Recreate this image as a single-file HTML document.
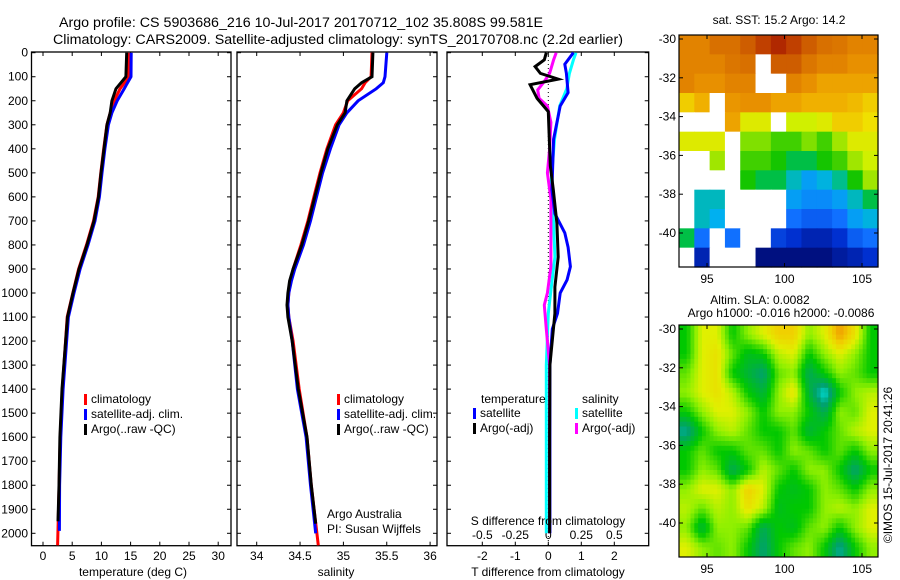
<!DOCTYPE html>
<html><head><meta charset="utf-8"><style>
html,body{margin:0;padding:0;background:#fff;}
svg{display:block;font-family:"Liberation Sans",sans-serif;}
</style></head><body>
<svg id="fig" width="900" height="580" viewBox="0 0 900 580">
<text x="59" y="27" font-size="13.5" textLength="484" lengthAdjust="spacingAndGlyphs">Argo profile: CS 5903686_216 10-Jul-2017 20170712_102 35.808S 99.581E</text>
<text x="53" y="44" font-size="13.5" textLength="570" lengthAdjust="spacingAndGlyphs">Climatology: CARS2009. Satellite-adjusted climatology: synTS_20170708.nc (2.2d earlier)</text>
<g id="g"></g>
</svg>
<script>
// ---------- data ----------
const tDepth = [0,100,150,200,250,300,400,500,600,700,800,900,1000,1100,1400,1600,1800,1950];
const tArgo  = [14.33,14.2,12.5,11.8,11.5,10.96,10.45,9.93,9.5,8.73,7.53,6.16,5.14,4.2,3.25,2.9,2.74,2.57];
const tClimDepth = [0,100,150,200,250,300,400,500,600,700,800,900,1000,1100,1400,1600,1800,2050];
const tClim  = [14.67,14.7,13.2,12.2,11.5,10.95,10.4,9.9,9.45,8.65,7.45,6.1,5.1,4.15,3.3,2.95,2.75,2.5];
const tSatDepth = [0,100,150,200,250,300,400,500,600,700,800,900,1000,1100,1400,1600,1800,1990];
const tSat   = [15.1,15.07,13.9,12.7,11.8,11.2,10.6,10.1,9.65,8.9,7.7,6.35,5.3,4.35,3.45,3.05,2.85,2.8];

const sDepth = [0,100,125,150,200,250,300,400,500,600,700,800,900,950,1000,1050,1100,1200,1400,1600,1800,1960];
const sArgo  = [35.34,35.33,35.21,35.13,35.04,35.02,34.93,34.82,34.74,34.67,34.60,34.52,34.42,34.38,34.36,34.35,34.36,34.41,34.48,34.58,34.63,34.68];
const sClimDepth = [0,100,125,150,200,250,300,400,500,600,700,800,900,950,1000,1050,1100,1200,1400,1600,1800,2050];
const sClim  = [35.33,35.32,35.25,35.21,35.05,35.00,34.91,34.81,34.73,34.66,34.59,34.51,34.42,34.39,34.37,34.36,34.37,34.42,34.49,34.58,34.63,34.71];
const sSatDepth = [0,100,125,150,200,250,300,400,500,600,700,800,900,950,1000,1050,1100,1200,1400,1600,1800,2000];
const sSat   = [35.50,35.48,35.46,35.38,35.17,35.04,34.95,34.85,34.76,34.69,34.62,34.54,34.44,34.40,34.37,34.36,34.37,34.41,34.47,34.57,34.62,34.68];

const dTDepth = [0,30,58,86,110,133,190,245,360,470,570,710,850,975,1085,1300,1600,2000];
const dTArgo  = [-0.06,-0.12,-0.4,-0.24,0.3,-0.55,-0.34,0,0.03,0.06,0.15,0.26,0.3,0.2,0.2,0.05,0.04,0.04];
const dTSatDepth = [0,48,86,166,222,360,570,670,750,810,890,945,1000,1085,1150,1300,1600,2000];
const dTSat   = [0.76,0.5,0.55,0.6,0.36,0.16,0.11,0.2,0.5,0.6,0.67,0.57,0.36,0.28,0.12,0.05,0.05,0.05];
const dSSatDepth = [0,30,86,150,222,360,530,710,850,975,1085,1300,1600,2000];
const dSSat   = [0.21,0.19,0.16,0.14,0.086,0.047,0.023,0.04,0.05,0.023,0,-0.015,-0.015,-0.015];
const dSArgoDepth = [0,30,86,120,155,190,222,290,400,500,610,750,890,1000,1050,1150,1300,1600,2000];
const dSArgo  = [0.06,0.04,0.01,-0.03,-0.08,-0.07,-0.007,0.02,0.01,-0.007,0.02,0.02,0.02,-0.007,-0.03,-0.015,0.01,0.01,0.01];

const N = NaN;
const sstGrid = [
 [17,17,17.3,17.3,17.5,17.8,18,17.8,17.5,17.3,17.2,17,17],
 [17,17,17,17.2,17.3,N,17.5,17.5,17.2,17,17,16.8,16.8],
 [17,16.8,16.8,17,17,N,N,17,16.8,16.5,16.5,16.5,16.5],
 [16,16.3,N,16.7,16.8,16.8,16.5,16.5,16.3,16.3,16.3,16.2,16],
 [N,N,N,16.5,15.5,15.5,N,15.3,15.3,15.5,16,16,15.8],
 [15.5,15.5,15.5,N,14.8,14.8,14.5,14.5,14.8,14.5,15,15.5,15.5],
 [N,N,15,N,14.5,14.5,14.3,14,14,14.3,14.5,15,15.3],
 [N,N,N,N,14.3,14,14,13.5,13,13.3,13.8,14.3,15],
 [N,13.5,13.5,N,N,N,N,13,12.8,12.8,13,13.5,14],
 [N,13.5,13.2,N,N,N,N,12.5,12.3,12.3,12.5,13,13.3],
 [14,12.5,N,12.5,N,N,12,11.8,11.5,11.5,11.8,12.3,12.5],
 [N,11.5,N,N,N,11,11,11,11,11,11.3,11.5,11.8]];
const slaGrid = [
 [0,.5,.5,0,.3,.5,.7,.7,.3,.5,.9,.6,0],
 [0,.5,.6,.2,-.1,0,.4,.5,0,.3,.5,.3,0],
 [.2,.5,.6,0,-.2,-.4,.2,.3,-.3,0,.3,.2,0],
 [.3,.5,.6,.4,0,-.2,.3,.6,-.2,-.7,0,.3,.4],
 [0,.3,.5,.5,.3,0,.3,.3,0,-.3,.3,.2,.5],
 [-.5,0,.3,.4,.2,0,0,.2,-.2,0,.2,.4,.5],
 [0,.2,0,0,.2,.2,0,.3,.2,0,.2,0,.3],
 [0,.3,.2,-.3,0,.4,.2,0,.3,.3,0,-.4,0],
 [.3,.5,.5,.3,.7,.5,0,-.1,0,.3,.2,0,.3],
 [.4,.2,.4,.3,.6,.4,-.1,0,0,.3,.4,.3,.5],
 [.3,-.2,.3,.3,.2,-.3,0,-.1,.2,.3,0,.3,.5],
 [.5,.3,.2,.3,0,-.4,0,.2,.3,0,-.5,0,.3]];

const depthTicks = [0,100,200,300,400,500,600,700,800,900,1000,1100,1200,1300,1400,1500,1600,1700,1800,1900,2000];
const tTicks = [0,5,10,15,20,25,30];
const sTicks = [34,34.5,35,35.5,36];
const dTTicks = [-2,-1,0,1,2];
const dSTicks = [-0.5,-0.25,0,0.25,0.5];
const dSTickLabels = ["-0.5","-0.25","0","0.25","0.5"];
const latTicks = [-30,-32,-34,-36,-38,-40];
const lonTicks = [95,100,105];

// ---------- helpers ----------
const NS="http://www.w3.org/2000/svg";
const G=document.getElementById('g');
function el(tag,attrs,parent,txt){const e=document.createElementNS(NS,tag);for(const k in attrs)e.setAttribute(k,attrs[k]);if(txt!==undefined)e.textContent=txt;(parent||G).appendChild(e);return e;}
const PT=52.7, PB=545.7;
const yD=d=>PT+d*0.2403;
const xT=v=>43+v*5.84;
const xS=v=>256.7+(v-34)*86.7;
const xDT=v=>548.3+v*33;
const xDS=v=>548.3+v*132;

function panel(name,x0,x1){
  const r=el('rect',{x:x0,y:52,width:x1-x0,height:PB-52,fill:'none',stroke:'#000','stroke-width':1.3});
  
  
  depthTicks.forEach(d=>{el('line',{x1:x0,x2:x0+4,y1:yD(d),y2:yD(d),stroke:'#000'});el('line',{x1:x1-4,x2:x1,y1:yD(d),y2:yD(d),stroke:'#000'});});
}
function xticks(vals,fx,x0,x1,labels,ly,name){
  vals.forEach((v,i)=>{const x=fx(v);
    el('line',{x1:x,x2:x,y1:52,y2:56,stroke:'#000'});
    el('line',{x1:x,x2:x,y1:PB-4,y2:PB,stroke:'#000'});
    if(labels){const t=el('text',{x:x,y:ly,'font-size':12,'text-anchor':'middle'},G,labels[i]);
      
      }
  });
}
function line(name,depths,vals,fx,color,w){
  const pts=depths.map((d,i)=>fx(vals[i]).toFixed(1)+','+yD(d).toFixed(1)).join(' ');
  const p=el('polyline',{points:pts,fill:'none',stroke:color,'stroke-width':w||3,'stroke-linejoin':'miter'});
  
  
}
function legend(x,y,color,label,name){
  el('rect',{x:x,y:y-9,width:3,height:11,fill:color});
  const t=el('text',{x:x+7,y:y,'font-size':12},G,label);
  
  
}

// ---------- panel 1 temperature ----------
panel('temperature-panel',31.5,231);
xticks(tTicks,xT,31.5,231,tTicks.map(String),560,'temperature-tick-label');
depthTicks.forEach(d=>{const t=el('text',{x:28,y:yD(d)+4,'font-size':12,'text-anchor':'end'},G,String(d));
  
  });
line('temperature-climatology',tClimDepth,tClim,xT,'#ff0000');
line('temperature-satellite-adj',tSatDepth,tSat,xT,'#0000ff');
line('temperature-argo',tDepth,tArgo,xT,'#000000');
legend(84,403,'#ff0000','climatology','legend-climatology');
legend(84,418,'#0000ff','satellite-adj. clim.','legend-satellite-adj');
legend(84,433,'#000000','Argo(..raw -QC)','legend-argo');
{const t=el('text',{x:133,y:576,'font-size':12,'text-anchor':'middle'},G,'temperature (deg C)');
 }

// ---------- panel 2 salinity ----------
panel('salinity-panel',237,437);
xticks(sTicks,xS,237,437,sTicks.map(String),560,'salinity-tick-label');
line('salinity-climatology',sClimDepth,sClim,xS,'#ff0000');
line('salinity-satellite-adj',sSatDepth,sSat,xS,'#0000ff');
line('salinity-argo',sDepth,sArgo,xS,'#000000');
legend(337,403,'#ff0000','climatology','legend-climatology-2');
legend(337,418,'#0000ff','satellite-adj. clim.','legend-satellite-adj-2');
legend(337,433,'#000000','Argo(..raw -QC)','legend-argo-2');
{let t=el('text',{x:327,y:518,'font-size':12},G,'Argo Australia');
 t=el('text',{x:327,y:533,'font-size':12},G,'PI: Susan Wijffels');
 t=el('text',{x:336,y:576,'font-size':12,'text-anchor':'middle'},G,'salinity');}

// ---------- panel 3 differences ----------
panel('difference-panel',447,648.7);
xticks(dTTicks,xDT,447,648.7,dTTicks.map(String),560,'t-diff-tick-label');
dSTicks.forEach((v,i)=>{const t=el('text',{x:xDS(v),y:539,'font-size':12,'text-anchor':'middle'},G,dSTickLabels[i]);
  });
el('line',{x1:xDT(0),x2:xDT(0),y1:52,y2:PB,stroke:'#000','stroke-dasharray':'1,3'});
line('s-diff-satellite',dSSatDepth,dSSat,xDS,'#00ffff');
line('s-diff-argo',dSArgoDepth,dSArgo,xDS,'#ff00ff');
line('t-diff-satellite',dTSatDepth,dTSat,xDT,'#0000ff');
line('t-diff-argo',dTDepth,dTArgo,xDT,'#000000');
{let t=el('text',{x:481,y:403,'font-size':12},G,'temperature');
 t=el('text',{x:582,y:403,'font-size':12},G,'salinity');}
legend(473,417,'#0000ff','satellite','legend-t-satellite');
legend(473,432,'#000000','Argo(-adj)','legend-t-argo');
legend(575,417,'#00ffff','satellite','legend-s-satellite');
legend(575,432,'#ff00ff','Argo(-adj)','legend-s-argo');
{let t=el('text',{x:548,y:525,'font-size':12,'text-anchor':'middle'},G,'S difference from climatology');
 t=el('text',{x:548,y:576,'font-size':12,'text-anchor':'middle'},G,'T difference from climatology');}

// ---------- maps ----------
function cmap(stops,v){
  if(v<=stops[0][0])return stops[0][1];
  for(let i=1;i<stops.length;i++){if(v<=stops[i][0]){const a=stops[i-1],b=stops[i],f=(v-a[0])/(b[0]-a[0]);
    return 'rgb('+a[1].map((c,k)=>Math.round(c+(b[1][k]-c)*f)).join(',')+')';}}
  return 'rgb('+stops[stops.length-1][1].join(',')+')';
}
function fix(s){return s.map(x=>[x[0],x[1]]);}
const sstStops=[[11,[0,16,128]],[11.8,[0,48,208]],[12.5,[16,112,255]],[13.2,[0,176,240]],[13.8,[0,190,140]],[14.2,[0,192,0]],[14.8,[128,224,0]],[15.3,[208,240,0]],[15.8,[240,224,0]],[16.3,[240,176,0]],[16.8,[232,144,0]],[17.3,[216,112,0]],[17.8,[192,64,0]],[18.2,[160,16,0]]];
const slaStops=[[-0.7,[0,224,224]],[-0.4,[0,160,112]],[0,[0,200,0]],[0.3,[144,240,0]],[0.5,[224,240,0]],[0.7,[240,208,0]],[0.9,[240,160,0]]];
function cstr(stops,v){const c=cmap(stops,v);return typeof c==='string'?c:'rgb('+c.join(',')+')';}

function mapFrame(name,x0,y0,x1,y1,lat30y,title1,title2){
  const grp=el('g',{});
  
  
  return grp;
}
function axesMap(x0,y0,x1,y1,lat30y,name){
  const r=el('rect',{x:x0,y:y0,width:x1-x0,height:y1-y0,fill:'none',stroke:'#000','stroke-width':1.2});
  
  
  latTicks.forEach(l=>{const y=lat30y+(-30-l)*19.4;
    el('line',{x1:x0,x2:x0+4,y1:y,y2:y,stroke:'#000'});el('line',{x1:x1-4,x2:x1,y1:y,y2:y,stroke:'#000'});
    const t=el('text',{x:x0-3,y:y+4,'font-size':12,'text-anchor':'end'},G,String(l));
    });
  lonTicks.forEach(l=>{const x=707+(l-95)*15.5;
    el('line',{x1:x,x2:x,y1:y0,y2:y0+4,stroke:'#000'});el('line',{x1:x,x2:x,y1:y1-4,y2:y1,stroke:'#000'});
    const t=el('text',{x:x,y:y1+16,'font-size':12,'text-anchor':'middle'},G,String(l));
    });
}
// SST map
{const x0=679,y0=35,x1=878,y1=267,R=sstGrid.length,C=sstGrid[0].length,cw=(x1-x0)/C,ch=(y1-y0)/R;
 const grp=mapFrame('sst-map');
 sstGrid.forEach((row,i)=>row.forEach((v,j)=>{
   const c=el('rect',{x:(x0+j*cw).toFixed(2),y:(y0+i*ch).toFixed(2),width:(cw+0.6).toFixed(2),height:(ch+0.6).toFixed(2),fill:isNaN(v)?'#ffffff':cstr(sstStops,v)},grp);
   
   
 }));
 axesMap(x0,y0,x1,y1,39,'sst-map-frame');
 const t=el('text',{x:779,y:24,'font-size':12,'text-anchor':'middle'},G,'sat. SST: 15.2 Argo: 14.2');
 }
// SLA map (bilinear smoothing of grid)
{const x0=679,y0=325,x1=878,y1=557,R=slaGrid.length,C=slaGrid[0].length,S=4;
 const grp=mapFrame('sla-map');
 const cw=(x1-x0)/(C*S),ch=(y1-y0)/(R*S);
 for(let i=0;i<R*S;i++)for(let j=0;j<C*S;j++){
   const gy=Math.min(Math.max((i+0.5)/S-0.5,0),R-1),gx=Math.min(Math.max((j+0.5)/S-0.5,0),C-1);
   const i0=Math.floor(gy),j0=Math.floor(gx),i1=Math.min(i0+1,R-1),j1=Math.min(j0+1,C-1),fy=gy-i0,fx=gx-j0;
   const v=slaGrid[i0][j0]*(1-fx)*(1-fy)+slaGrid[i0][j1]*fx*(1-fy)+slaGrid[i1][j0]*(1-fx)*fy+slaGrid[i1][j1]*fx*fy;
   const c=el('rect',{x:(x0+j*cw).toFixed(2),y:(y0+i*ch).toFixed(2),width:(cw+0.5).toFixed(2),height:(ch+0.5).toFixed(2),fill:cstr(slaStops,v)},grp);
   
   
 }
 axesMap(x0,y0,x1,y1,329,'sla-map-frame');
 let t=el('text',{x:760,y:304,'font-size':12,'text-anchor':'middle'},G,'Altim. SLA: 0.0082');
 
 t=el('text',{x:781,y:317,'font-size':12,'text-anchor':'middle'},G,'Argo h1000: -0.016 h2000: -0.0086');
 
 t=el('text',{x:0,y:0,'font-size':12,'text-anchor':'middle',transform:'translate(892,465) rotate(-90)'},G,'©IMOS 15-Jul-2017 20:41:26');
 }
</script>
</body></html>
